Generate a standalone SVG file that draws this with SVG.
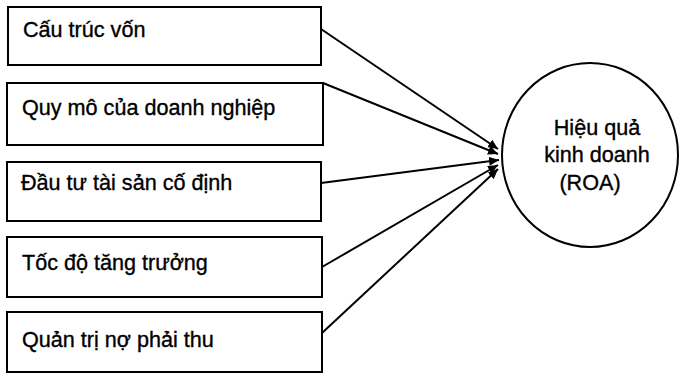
<svg xmlns="http://www.w3.org/2000/svg" width="679" height="374" viewBox="0 0 679 374">
  <defs>
    <style>
      .box { fill: #fff; stroke: #000; stroke-width: 2; }
      .label { font-family: "Liberation Sans", Arial, sans-serif; font-size: 21.6px; fill: #000; stroke: #000; stroke-width: 0.35; }
      .link { stroke: #000; stroke-width: 2; fill: none; marker-end: url(#head); }
    </style>
    <marker id="head" markerUnits="userSpaceOnUse" markerWidth="11" markerHeight="9" refX="10" refY="4.5" orient="auto">
      <path d="M0,0 L10,4.5 L0,9 Z" fill="#000"/>
    </marker>
  </defs>
  <rect width="679" height="374" fill="#fff"/>

  <!-- connectors: each factor points at the outcome -->
  <g id="connectors">
    <line class="link" x1="321" y1="29" x2="498" y2="149"/>
    <line class="link" x1="323" y1="83" x2="498" y2="154"/>
    <line class="link" x1="321" y1="183" x2="499" y2="160"/>
    <line class="link" x1="322" y1="267" x2="498" y2="165"/>
    <line class="link" x1="322" y1="333" x2="498" y2="169"/>
  </g>

  <g id="cau-truc-von">
    <rect class="box" x="8" y="7" width="313" height="58"/>
    <text class="label" x="23" y="37">Cấu trúc vốn</text>
  </g>
  <g id="quy-mo">
    <rect class="box" x="7" y="83" width="316" height="62"/>
    <text class="label" x="22" y="115">Quy mô của doanh nghiệp</text>
  </g>
  <g id="dau-tu-tscd">
    <rect class="box" x="7" y="162" width="314" height="59"/>
    <text class="label" x="21" y="190">Đầu tư tài sản cố định</text>
  </g>
  <g id="toc-do-tang-truong">
    <rect class="box" x="7" y="237" width="315" height="60"/>
    <text class="label" x="22" y="270">Tốc độ tăng trưởng</text>
  </g>
  <g id="quan-tri-no">
    <rect class="box" x="7" y="312" width="315" height="60"/>
    <text class="label" x="22" y="347">Quản trị nợ phải thu</text>
  </g>

  <g id="roa">
    <ellipse cx="590" cy="155" rx="88" ry="92" fill="#fff" stroke="#000" stroke-width="2"/>
    <text class="label" x="597" y="135" text-anchor="middle">Hiệu quả</text>
    <text class="label" x="597" y="162" text-anchor="middle">kinh doanh</text>
    <text class="label" x="590" y="190" text-anchor="middle">(ROA)</text>
  </g>
</svg>
